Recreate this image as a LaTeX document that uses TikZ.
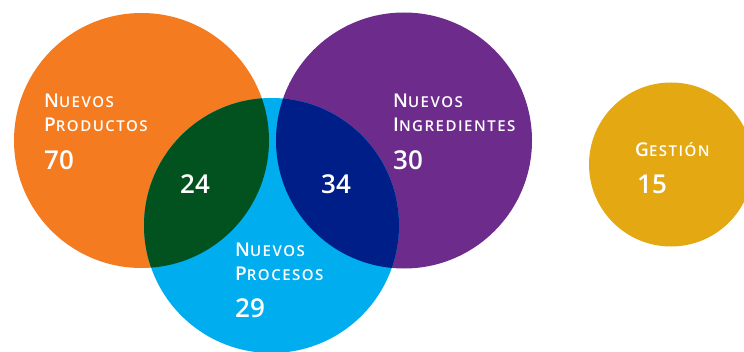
\documentclass[tikz,border=0pt]{standalone}
\usepackage{fontspec}
\setmainfont{Open Sans}
\newfontfamily\labfont[LetterSpace=10]{Open Sans Semibold}
\newfontfamily\numfont{Open Sans Semibold}
\definecolor{cOrange}{HTML}{F47B20}
\definecolor{cPurple}{HTML}{6D2C8B}
\definecolor{cBlue}{HTML}{00AEEF}
\definecolor{cGreen}{HTML}{02521F}
\definecolor{cNavy}{HTML}{001E87}
\definecolor{cGold}{HTML}{E3A812}
\newcommand\bigsm[2]{{\fontsize{19}{19}\selectfont #1}{\fontsize{15}{15}\selectfont #2}}
\tikzset{
  lab/.style={anchor=base west, inner sep=0pt, text=white, font=\labfont, align=left},
  num/.style={anchor=base west, inner sep=0pt, text=white, font=\numfont\fontsize{26}{26}\selectfont},
}
\begin{document}
\begin{tikzpicture}[x=1pt,y=1pt]
\useasboundingbox (0,0) rectangle (744,351);
% circles
\fill[cOrange] (141.5,210.5) circle (127.5);
\fill[cPurple] (404,210.5) circle (128);
\fill[cBlue] (271.5,125.5) circle (127.5);
\fill[cGold] (671,186.5) circle (82);
\begin{scope}
  \clip (141.5,210.5) circle (127.5);
  \fill[cGreen] (271.5,125.5) circle (127.5);
\end{scope}
\begin{scope}
  \clip (404,210.5) circle (128);
  \fill[cNavy] (271.5,125.5) circle (127.5);
\end{scope}
% labels
\node[lab] (np1) at (44,243) {\bigsm{N}{UEVOS}};
\node[lab] (np2) at (44,219) {\bigsm{P}{RODUCTOS}};
\node[num] (np3) at (44,181) {70};
\node[lab] (ni1) at (393,243) {\bigsm{N}{UEVOS}};
\node[lab] (ni2) at (393,219) {\bigsm{I}{NGREDIENTES}};
\node[num] (ni3) at (393,181) {30};
\node[lab] (nr1) at (235,95) {\bigsm{N}{UEVOS}};
\node[lab] (nr2) at (235,71) {\bigsm{P}{ROCESOS}};
\node[num] (nr3) at (235,34) {29};
\node[num] (i1) at (180,157) {24};
\node[num] (i2) at (321,157) {34};
\node[lab] (g1) at (635,194) {\bigsm{G}{ESTIÓN}};
\node[num] (g2) at (637,157) {15};
\end{tikzpicture}
\end{document}
